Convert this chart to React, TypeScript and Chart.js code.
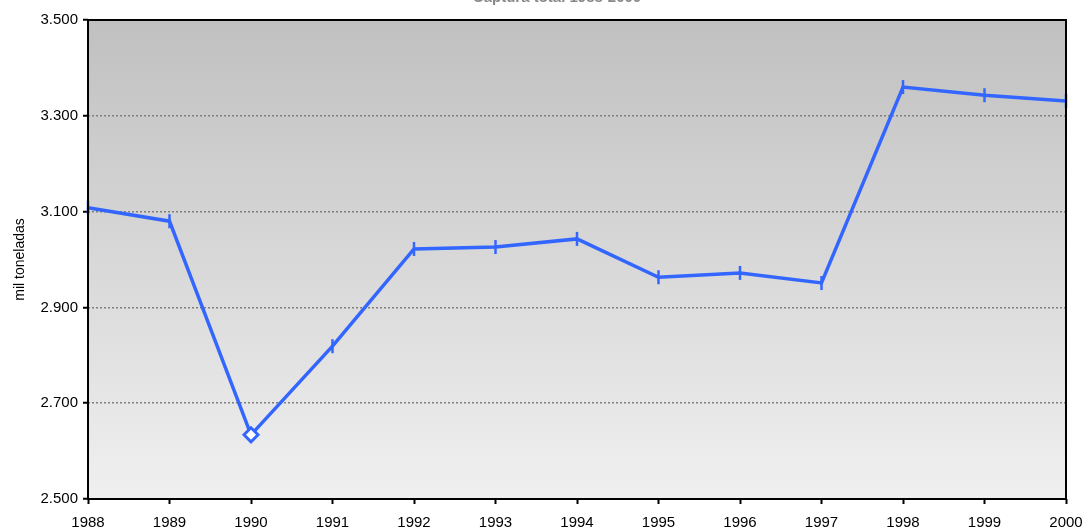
import { useEffect, useRef } from "react"
import { Chart, registerables } from "chart.js"

Chart.register(...registerables)

const years = ["1988", "1989", "1990", "1991", "1992", "1993", "1994", "1995", "1996", "1997", "1998", "1999", "2000"]
const capturas = [3108, 3080, 2634, 2819, 3022, 3026, 3043, 2963, 2972, 2951, 3360, 3343, 3331]
const yTicks = [2500, 2700, 2900, 3100, 3300, 3500]
const titleText = "Captura total 1988-2000"

const FONT = "'Liberation Sans', Arial, sans-serif"

// 3100 -> "3.100"
const fmt = (v: number) => {
  const s = String(Math.round(v))
  return s.slice(0, s.length - 3) + "." + s.slice(-3)
}

export default function App() {
  const chartRef = useRef<HTMLCanvasElement>(null)
  const chartInstance = useRef<Chart | null>(null)

  useEffect(() => {
    if (!chartRef.current) return
    const ctx = chartRef.current.getContext("2d")
    if (!ctx) return

    // gradient background + frame around the plot
    const framePlugin = {
      id: "frame",
      beforeDraw(chart: any) {
        const { ctx, chartArea: a } = chart
        const g = ctx.createLinearGradient(0, a.top, 0, a.bottom)
        g.addColorStop(0, "#c0c0c0")
        g.addColorStop(1, "#f0f0f0")
        ctx.save()
        ctx.fillStyle = g
        ctx.fillRect(a.left, a.top, a.right - a.left, a.bottom - a.top)
        ctx.restore()
      },
      afterDatasetsDraw(chart: any) {
        const { ctx, chartArea: a } = chart
        ctx.save()
        ctx.strokeStyle = "#000"
        ctx.lineWidth = 2
        ctx.strokeRect(a.left, a.top, a.right - a.left, a.bottom - a.top)
        // title, mostly cut off at the top of the page
        ctx.font = `bold 15px ${FONT}`
        ctx.fillStyle = "#888"
        ctx.textAlign = "center"
        ctx.textBaseline = "alphabetic"
        ctx.fillText(titleText, 557, 1.5)
        ctx.restore()
      },
    }

    chartInstance.current = new Chart(ctx, {
      type: "line",
      data: {
        labels: years,
        datasets: [
          {
            label: "mil toneladas",
            data: capturas,
            borderColor: "#3366ff",
            borderWidth: 3.5,
            tension: 0,
            pointStyle: capturas.map((_, i) => (i === 2 ? "rectRot" : "line")) as any,
            rotation: capturas.map((_, i) => (i === 2 ? 0 : 90)) as any,
            pointRadius: 7,
            pointBackgroundColor: capturas.map((_, i) => (i === 2 ? "#ffffff" : "#3366ff")) as any,
            pointBorderColor: "#3366ff",
            pointBorderWidth: capturas.map((_, i) => (i === 2 ? 3 : 2.5)) as any,
            clip: false as any,
          },
        ],
      },
      options: {
        animation: false,
        responsive: true,
        maintainAspectRatio: false,
        layout: { padding: { left: 0, right: 19, top: 20, bottom: 0 } },
        plugins: {
          legend: { display: false },
          tooltip: { enabled: false },
        },
        scales: {
          x: {
            offset: false,
            grid: {
              drawOnChartArea: false,
              drawTicks: true,
              tickLength: 5,
              tickColor: "#000",
              tickWidth: 2,
            },
            border: { display: false },
            ticks: {
              color: "#000",
              padding: 10,
              autoSkip: false,
              maxRotation: 0,
              font: { family: FONT, size: 15 },
            },
            afterFit: (scale: any) => {
              scale.height = 31
              scale.paddingLeft = 0
              scale.paddingRight = 0
            },
          },
          y: {
            min: 2500,
            max: 3500,
            afterBuildTicks: (scale: any) => {
              scale.ticks = yTicks.map((v) => ({ value: v }))
            },
            grid: {
              color: "#7f7f7f",
              lineWidth: 1.5,
              tickBorderDash: [],
              tickColor: "#000",
              tickWidth: 2,
              tickLength: 5,
            },
            border: { display: false, dash: [2, 2] },
            ticks: {
              color: "#000",
              padding: 5,
              font: { family: FONT, size: 15 },
              callback: (v: any) => fmt(Number(v)),
            },
            title: {
              display: true,
              text: "mil toneladas",
              color: "#000",
              padding: { top: 12, bottom: 0 },
              font: { family: FONT, size: 14 },
            },
            afterFit: (scale: any) => {
              scale.width = 88
            },
          },
        },
      },
      plugins: [framePlugin],
    })

    return () => {
      if (chartInstance.current) {
        chartInstance.current.destroy()
        chartInstance.current = null
      }
    }
  }, [])

  return (
    <div style={{ position: "fixed", left: 0, top: 0, width: 1085, height: 530, background: "#fff" }}>
      <canvas ref={chartRef}></canvas>
    </div>
  )
}
